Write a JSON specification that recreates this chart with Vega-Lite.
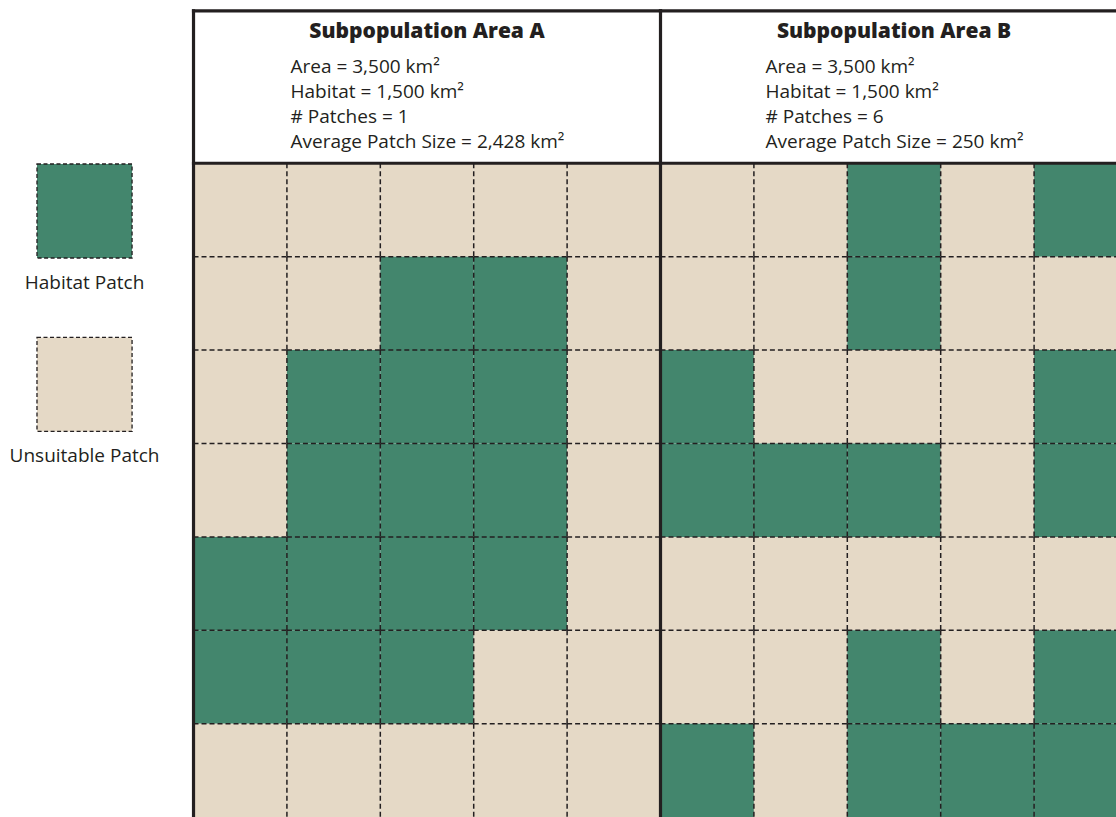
{
  "$schema": "https://vega.github.io/schema/vega-lite/v6.json",
  "width": 1116,
  "height": 817,
  "autosize": "none",
  "padding": 0,
  "background": "white",
  "config": {"view": {"stroke": null}},
  "datasets": {
    "cells": [
      {"panel": "A", "row": 0, "col": 0, "type": "unsuitable"},
      {"panel": "A", "row": 0, "col": 1, "type": "unsuitable"},
      {"panel": "A", "row": 0, "col": 2, "type": "unsuitable"},
      {"panel": "A", "row": 0, "col": 3, "type": "unsuitable"},
      {"panel": "A", "row": 0, "col": 4, "type": "unsuitable"},
      {"panel": "A", "row": 1, "col": 0, "type": "unsuitable"},
      {"panel": "A", "row": 1, "col": 1, "type": "unsuitable"},
      {"panel": "A", "row": 1, "col": 2, "type": "habitat"},
      {"panel": "A", "row": 1, "col": 3, "type": "habitat"},
      {"panel": "A", "row": 1, "col": 4, "type": "unsuitable"},
      {"panel": "A", "row": 2, "col": 0, "type": "unsuitable"},
      {"panel": "A", "row": 2, "col": 1, "type": "habitat"},
      {"panel": "A", "row": 2, "col": 2, "type": "habitat"},
      {"panel": "A", "row": 2, "col": 3, "type": "habitat"},
      {"panel": "A", "row": 2, "col": 4, "type": "unsuitable"},
      {"panel": "A", "row": 3, "col": 0, "type": "unsuitable"},
      {"panel": "A", "row": 3, "col": 1, "type": "habitat"},
      {"panel": "A", "row": 3, "col": 2, "type": "habitat"},
      {"panel": "A", "row": 3, "col": 3, "type": "habitat"},
      {"panel": "A", "row": 3, "col": 4, "type": "unsuitable"},
      {"panel": "A", "row": 4, "col": 0, "type": "habitat"},
      {"panel": "A", "row": 4, "col": 1, "type": "habitat"},
      {"panel": "A", "row": 4, "col": 2, "type": "habitat"},
      {"panel": "A", "row": 4, "col": 3, "type": "habitat"},
      {"panel": "A", "row": 4, "col": 4, "type": "unsuitable"},
      {"panel": "A", "row": 5, "col": 0, "type": "habitat"},
      {"panel": "A", "row": 5, "col": 1, "type": "habitat"},
      {"panel": "A", "row": 5, "col": 2, "type": "habitat"},
      {"panel": "A", "row": 5, "col": 3, "type": "unsuitable"},
      {"panel": "A", "row": 5, "col": 4, "type": "unsuitable"},
      {"panel": "A", "row": 6, "col": 0, "type": "unsuitable"},
      {"panel": "A", "row": 6, "col": 1, "type": "unsuitable"},
      {"panel": "A", "row": 6, "col": 2, "type": "unsuitable"},
      {"panel": "A", "row": 6, "col": 3, "type": "unsuitable"},
      {"panel": "A", "row": 6, "col": 4, "type": "unsuitable"},
      {"panel": "B", "row": 0, "col": 5, "type": "unsuitable"},
      {"panel": "B", "row": 0, "col": 6, "type": "unsuitable"},
      {"panel": "B", "row": 0, "col": 7, "type": "habitat"},
      {"panel": "B", "row": 0, "col": 8, "type": "unsuitable"},
      {"panel": "B", "row": 0, "col": 9, "type": "habitat"},
      {"panel": "B", "row": 1, "col": 5, "type": "unsuitable"},
      {"panel": "B", "row": 1, "col": 6, "type": "unsuitable"},
      {"panel": "B", "row": 1, "col": 7, "type": "habitat"},
      {"panel": "B", "row": 1, "col": 8, "type": "unsuitable"},
      {"panel": "B", "row": 1, "col": 9, "type": "unsuitable"},
      {"panel": "B", "row": 2, "col": 5, "type": "habitat"},
      {"panel": "B", "row": 2, "col": 6, "type": "unsuitable"},
      {"panel": "B", "row": 2, "col": 7, "type": "unsuitable"},
      {"panel": "B", "row": 2, "col": 8, "type": "unsuitable"},
      {"panel": "B", "row": 2, "col": 9, "type": "habitat"},
      {"panel": "B", "row": 3, "col": 5, "type": "habitat"},
      {"panel": "B", "row": 3, "col": 6, "type": "habitat"},
      {"panel": "B", "row": 3, "col": 7, "type": "habitat"},
      {"panel": "B", "row": 3, "col": 8, "type": "unsuitable"},
      {"panel": "B", "row": 3, "col": 9, "type": "habitat"},
      {"panel": "B", "row": 4, "col": 5, "type": "unsuitable"},
      {"panel": "B", "row": 4, "col": 6, "type": "unsuitable"},
      {"panel": "B", "row": 4, "col": 7, "type": "unsuitable"},
      {"panel": "B", "row": 4, "col": 8, "type": "unsuitable"},
      {"panel": "B", "row": 4, "col": 9, "type": "unsuitable"},
      {"panel": "B", "row": 5, "col": 5, "type": "unsuitable"},
      {"panel": "B", "row": 5, "col": 6, "type": "unsuitable"},
      {"panel": "B", "row": 5, "col": 7, "type": "habitat"},
      {"panel": "B", "row": 5, "col": 8, "type": "unsuitable"},
      {"panel": "B", "row": 5, "col": 9, "type": "habitat"},
      {"panel": "B", "row": 6, "col": 5, "type": "habitat"},
      {"panel": "B", "row": 6, "col": 6, "type": "unsuitable"},
      {"panel": "B", "row": 6, "col": 7, "type": "habitat"},
      {"panel": "B", "row": 6, "col": 8, "type": "habitat"},
      {"panel": "B", "row": 6, "col": 9, "type": "habitat"}
    ],
    "panels": [
      {"panel": "A", "start_col": 0, "title": "Subpopulation Area A", "info": "Area = 3,500 km²\nHabitat = 1,500 km²\n# Patches = 1\nAverage Patch Size = 2,428 km²"},
      {"panel": "B", "start_col": 5, "title": "Subpopulation Area B", "info": "Area = 3,500 km²\nHabitat = 1,500 km²\n# Patches = 6\nAverage Patch Size = 250 km²"}
    ],
    "legend": [
      {"type": "habitat", "label": "Habitat Patch", "slot": 0},
      {"type": "unsuitable", "label": "Unsuitable Patch", "slot": 1}
    ]
  },
  "layer": [
    {
      "data": {"name": "cells"},
      "transform": [
        {"calculate": "datum.col + 1", "as": "col_end"},
        {"calculate": "datum.row + 1", "as": "row_end"}
      ],
      "mark": {"type": "rect"},
      "encoding": {
        "x": {"field": "col", "type": "quantitative", "scale": {"domain": [-2.072, 9.877], "nice": false, "zero": false}, "axis": null},
        "x2": {"field": "col_end"},
        "y": {"field": "row", "type": "quantitative", "scale": {"domain": [-1.748, 6.999], "reverse": true, "nice": false, "zero": false}, "axis": null},
        "y2": {"field": "row_end"},
        "fill": {"field": "type", "type": "nominal", "scale": {"domain": ["habitat", "unsuitable"], "range": ["#43866d", "#e5d9c6"]}, "legend": null}
      }
    },
    {
      "data": {"name": "cells"},
      "transform": [
        {"filter": "datum.col != 0 && datum.col != 5"},
        {"calculate": "datum.row + 1", "as": "row_end"}
      ],
      "mark": {"type": "rule", "color": "#231f20", "strokeWidth": 1.5, "strokeDash": [5, 3]},
      "encoding": {
        "x": {"field": "col", "type": "quantitative", "scale": {"domain": [-2.072, 9.877], "nice": false, "zero": false}, "axis": null},
        "y": {"field": "row", "type": "quantitative", "scale": {"domain": [-1.748, 6.999], "reverse": true, "nice": false, "zero": false}, "axis": null},
        "y2": {"field": "row_end"}
      }
    },
    {
      "data": {"name": "cells"},
      "transform": [
        {"filter": "datum.row != 0"},
        {"calculate": "datum.col + 1", "as": "col_end"}
      ],
      "mark": {"type": "rule", "color": "#231f20", "strokeWidth": 1.5, "strokeDash": [5, 3]},
      "encoding": {
        "x": {"field": "col", "type": "quantitative", "scale": {"domain": [-2.072, 9.877], "nice": false, "zero": false}, "axis": null},
        "x2": {"field": "col_end"},
        "y": {"field": "row", "type": "quantitative", "scale": {"domain": [-1.748, 6.999], "reverse": true, "nice": false, "zero": false}, "axis": null}
      }
    },
    {
      "data": {"name": "panels"},
      "mark": {"type": "rule", "color": "#231f20", "strokeWidth": 3.2, "strokeCap": "square"},
      "encoding": {
        "x": {"field": "start_col", "type": "quantitative", "scale": {"domain": [-2.072, 9.877], "nice": false, "zero": false}, "axis": null},
        "y": {"datum": -1.631, "type": "quantitative", "scale": {"domain": [-1.748, 6.999], "reverse": true, "nice": false, "zero": false}, "axis": null},
        "y2": {"datum": 7}
      }
    },
    {
      "data": {"name": "panels"},
      "transform": [{"calculate": "datum.start_col + 5", "as": "end_col"}],
      "mark": {"type": "rule", "color": "#231f20", "strokeWidth": 3.2, "strokeCap": "square"},
      "encoding": {
        "x": {"field": "start_col", "type": "quantitative", "scale": {"domain": [-2.072, 9.877], "nice": false, "zero": false}, "axis": null},
        "x2": {"field": "end_col"},
        "y": {"datum": -1.631, "type": "quantitative", "scale": {"domain": [-1.748, 6.999], "reverse": true, "nice": false, "zero": false}, "axis": null}
      }
    },
    {
      "data": {"name": "panels"},
      "transform": [{"calculate": "datum.start_col + 5", "as": "end_col"}],
      "mark": {"type": "rule", "color": "#231f20", "strokeWidth": 3.2, "strokeCap": "square"},
      "encoding": {
        "x": {"field": "start_col", "type": "quantitative", "scale": {"domain": [-2.072, 9.877], "nice": false, "zero": false}, "axis": null},
        "x2": {"field": "end_col"},
        "y": {"datum": 0, "type": "quantitative", "scale": {"domain": [-1.748, 6.999], "reverse": true, "nice": false, "zero": false}, "axis": null}
      }
    },
    {
      "data": {"name": "panels"},
      "transform": [{"calculate": "datum.start_col + 2.5", "as": "center"}],
      "mark": {"type": "text", "font": "Open Sans", "fontWeight": 800, "fontSize": 21, "align": "center", "baseline": "alphabetic", "color": "#231f20"},
      "encoding": {
        "x": {"field": "center", "type": "quantitative", "scale": {"domain": [-2.072, 9.877], "nice": false, "zero": false}, "axis": null},
        "y": {"datum": -1.342, "type": "quantitative", "scale": {"domain": [-1.748, 6.999], "reverse": true, "nice": false, "zero": false}, "axis": null},
        "text": {"field": "title", "type": "nominal"}
      }
    },
    {
      "data": {"name": "panels"},
      "transform": [{"filter": "datum.panel == 'A'"}, {"calculate": "datum.start_col + 2.5", "as": "center"}],
      "mark": {"type": "text", "font": "Open Sans", "fontSize": 19, "align": "left", "baseline": "alphabetic", "lineBreak": "\n", "lineHeight": 25, "dx": -136.5, "color": "#231f20"},
      "encoding": {
        "x": {"field": "center", "type": "quantitative", "scale": {"domain": [-2.072, 9.877], "nice": false, "zero": false}, "axis": null},
        "y": {"datum": -0.967, "type": "quantitative", "scale": {"domain": [-1.748, 6.999], "reverse": true, "nice": false, "zero": false}, "axis": null},
        "text": {"field": "info", "type": "nominal"}
      }
    },
    {
      "data": {"name": "panels"},
      "transform": [{"filter": "datum.panel == 'B'"}, {"calculate": "datum.start_col + 2.5", "as": "center"}],
      "mark": {"type": "text", "font": "Open Sans", "fontSize": 19, "align": "left", "baseline": "alphabetic", "lineBreak": "\n", "lineHeight": 25, "dx": -128.5, "color": "#231f20"},
      "encoding": {
        "x": {"field": "center", "type": "quantitative", "scale": {"domain": [-2.072, 9.877], "nice": false, "zero": false}, "axis": null},
        "y": {"datum": -0.967, "type": "quantitative", "scale": {"domain": [-1.748, 6.999], "reverse": true, "nice": false, "zero": false}, "axis": null},
        "text": {"field": "info", "type": "nominal"}
      }
    },
    {
      "data": {"name": "legend"},
      "transform": [
        {"calculate": "datum.slot * 1.857 + 0.008", "as": "top"},
        {"calculate": "datum.slot * 1.857 + 1.014", "as": "bottom"}
      ],
      "mark": {"type": "rect", "stroke": "#231f20", "strokeWidth": 1.3, "strokeDash": [4, 2.5]},
      "encoding": {
        "x": {"datum": -1.676, "type": "quantitative", "scale": {"domain": [-2.072, 9.877], "nice": false, "zero": false}, "axis": null},
        "x2": {"datum": -0.658},
        "y": {"field": "top", "type": "quantitative", "scale": {"domain": [-1.748, 6.999], "reverse": true, "nice": false, "zero": false}, "axis": null},
        "y2": {"field": "bottom"},
        "fill": {"field": "type", "type": "nominal", "scale": {"domain": ["habitat", "unsuitable"], "range": ["#43866d", "#e5d9c6"]}, "legend": null}
      }
    },
    {
      "data": {"name": "legend"},
      "transform": [{"calculate": "datum.slot * 1.857 + 1.346", "as": "label_y"}],
      "mark": {"type": "text", "font": "Open Sans", "fontSize": 19, "align": "center", "baseline": "alphabetic", "color": "#231f20"},
      "encoding": {
        "x": {"datum": -1.167, "type": "quantitative", "scale": {"domain": [-2.072, 9.877], "nice": false, "zero": false}, "axis": null},
        "y": {"field": "label_y", "type": "quantitative", "scale": {"domain": [-1.748, 6.999], "reverse": true, "nice": false, "zero": false}, "axis": null},
        "text": {"field": "label", "type": "nominal"}
      }
    }
  ]
}
